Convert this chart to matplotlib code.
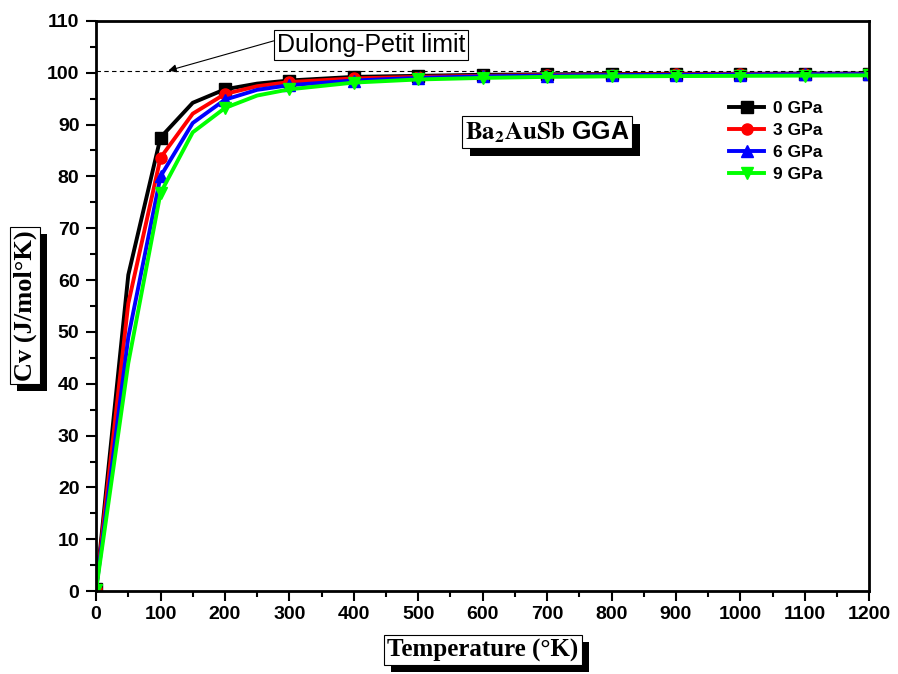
import numpy as np
import matplotlib
matplotlib.use("Agg")
import matplotlib.pyplot as plt
from matplotlib.ticker import MultipleLocator
from matplotlib.patches import Rectangle
from matplotlib.transforms import IdentityTransform

plt.rcParams['mathtext.fontset'] = 'stix'

# temperature (K) and heat capacity Cv (J/mol K) at each pressure
temps = [0, 50, 100, 150, 200, 250, 300, 400, 500, 600, 700, 800, 900, 1000, 1100, 1200]
cv_0gpa = [0.5, 61.0, 87.5, 94.2, 96.8, 97.9, 98.5, 99.2, 99.4, 99.6, 99.7, 99.75, 99.8, 99.8, 99.85, 99.85]
cv_3gpa = [0.4, 55.5, 83.6, 92.1, 95.9, 97.4, 98.2, 98.9, 99.2, 99.4, 99.55, 99.65, 99.7, 99.72, 99.75, 99.77]
cv_6gpa = [0.3, 49.0, 80.0, 90.3, 94.8, 96.7, 97.6, 98.5, 99.0, 99.3, 99.45, 99.55, 99.6, 99.65, 99.7, 99.72]
cv_9gpa = [0.2, 44.0, 76.8, 88.5, 93.2, 95.6, 96.8, 98.1, 98.7, 99.0, 99.2, 99.3, 99.35, 99.4, 99.45, 99.5]
labels = ['0 GPa', '3 GPa', '6 GPa', '9 GPa']
dulong_petit = 100.4

series = [cv_0gpa, cv_3gpa, cv_6gpa, cv_9gpa]
colors = ['black', 'red', 'blue', '#00ff00']
markers = ['s', 'o', '^', 'v']
# markers only on the 100 K grid
mk_idx = [i for i, t in enumerate(temps) if t % 100 == 0]

fig = plt.figure(figsize=(8.98, 6.74), dpi=100)
ax = fig.add_axes([0.107, 0.123, 0.861, 0.846])

for cv, c, m, lab in zip(series, colors, markers, labels):
    ax.plot(temps, cv, color=c, marker=m, markersize=8, linewidth=2.8,
            markevery=mk_idx, label=lab)

ax.axhline(dulong_petit, color='black', linestyle=(0, (4, 3)), linewidth=0.8)

ax.set_xlim(0, 1200)
ax.set_ylim(0, 110)
ax.xaxis.set_major_locator(MultipleLocator(100))
ax.xaxis.set_minor_locator(MultipleLocator(50))
ax.yaxis.set_major_locator(MultipleLocator(10))
ax.yaxis.set_minor_locator(MultipleLocator(5))
ax.tick_params(which='both', direction='out', width=1.5)
ax.tick_params(which='major', length=7, labelsize=14)
ax.tick_params(axis='y', which='major', pad=5)
ax.tick_params(which='minor', length=4)
for lbl in ax.get_xticklabels() + ax.get_yticklabels():
    lbl.set_fontweight('bold')
    lbl.set_family('Liberation Sans')
for sp in ax.spines.values():
    sp.set_linewidth(2)

leg = ax.legend(loc='upper left', bbox_to_anchor=(0.81, 0.872), frameon=False,
                handlelength=2.0, handletextpad=0.5, labelspacing=0.4, borderaxespad=0,
                prop={'family': 'Liberation Sans', 'weight': 'bold', 'size': 12.5})


boxed = []


def boxed_text(x, y, s, transform, shift=7, **kw):
    t = fig.text(x, y, s, transform=transform, color='black', ha='center', va='center',
                 zorder=4,
                 bbox=dict(boxstyle='square,pad=0.12', fc='white', ec='black', lw=0.8), **kw)
    boxed.append((t, shift))
    return t


boxed_text(0.538, 0.0356, 'Temperature (°K)', fig.transFigure,
           family='Liberation Serif', weight='bold', size=18)
boxed_text(0.028, 0.547, 'Cv (J/mol°K)', fig.transFigure, rotation=90,
           family='Liberation Serif', weight='bold', size=19)
boxed_text(700, 88.6, r'$\mathbf{Ba_2AuSb}$ GGA', ax.transData, shift=8,
           family='Liberation Sans', weight='bold', size=18)

ax.annotate('Dulong-Petit limit', xy=(112, dulong_petit), xytext=(427, 105.4),
            ha='center', va='center', family='Liberation Sans', size=18,
            bbox=dict(boxstyle='square,pad=0.12', fc='white', ec='black', lw=0.8),
            arrowprops=dict(arrowstyle='-|>', color='black', lw=0.8, relpos=(0, 0.7),
                            shrinkA=0, shrinkB=0, mutation_scale=12))

# black drop shadows behind the framed labels
fig.canvas.draw()
for t, shift in boxed:
    bb = t.get_bbox_patch().get_window_extent()
    fig.add_artist(Rectangle((bb.x0 + shift, bb.y0 - shift), bb.width, bb.height,
                             transform=IdentityTransform(), fc='black', ec='none',
                             zorder=3))

fig.savefig('out.png', dpi=100)
